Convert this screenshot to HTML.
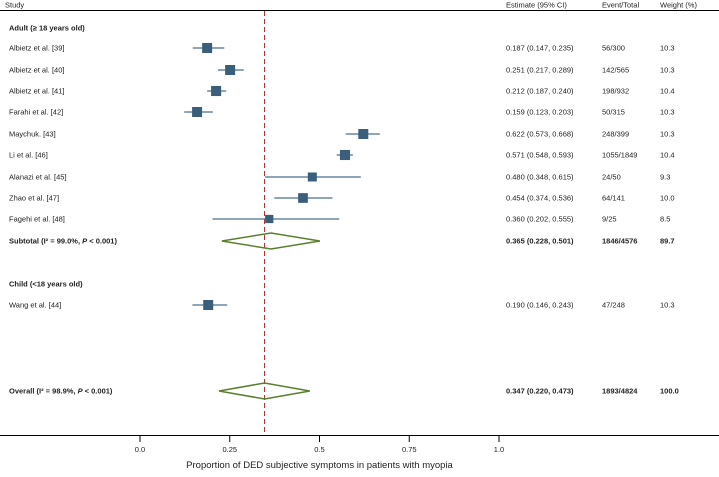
<!DOCTYPE html>
<html><head><meta charset="utf-8"><style>
body{margin:0;background:#fff}
svg text{font-family:"Liberation Sans",sans-serif;font-size:7.5px;fill:#222}
.b{font-weight:bold}
</style></head><body>
<svg id="c" width="719" height="472" viewBox="0 0 719 472" xmlns="http://www.w3.org/2000/svg">
<g id="g"></g>
</svg>
<script>
const studies=["Albietz et al. [39]","Albietz et al. [40]","Albietz et al. [41]","Farahi et al. [42]","Maychuk. [43]","Li et al. [46]","Alanazi et al. [45]","Zhao et al. [47]","Fagehi et al. [48]","Wang et al. [44]"];
const est=[0.187,0.251,0.212,0.159,0.622,0.571,0.480,0.454,0.360,0.190];
const lo=[0.147,0.217,0.187,0.123,0.573,0.548,0.348,0.374,0.202,0.146];
const hi=[0.235,0.289,0.240,0.203,0.668,0.593,0.615,0.536,0.555,0.243];
const events=["56/300","142/565","198/932","50/315","248/399","1055/1849","24/50","64/141","9/25","47/248"];
const weights=[10.3,10.3,10.4,10.3,10.3,10.4,9.3,10.0,8.5,10.3];
const rowsY=[48,70,91,112,134,155,177,198,219,305];
const pooledEst=[0.365,0.347];
const pooledLo=[0.228,0.220];
const pooledHi=[0.501,0.473];
const pooledLabel=["Subtotal","Overall"];
const pooledI2=["99.0%","98.9%"];
const pooledEvents=["1846/4576","1893/4824"];
const pooledWeight=["89.7","100.0"];
const pooledY=[241,391];
const ticks=[0,0.25,0.5,0.75,1.0];
const tickLabels=["0.0","0.25","0.5","0.75","1.0"];
const overall=0.347;

const NS="http://www.w3.org/2000/svg";
const g=document.getElementById('g');
const x=v=>140+v*359;
function mk(t,a,txt){const e=document.createElementNS(NS,t);for(const k in a)e.setAttribute(k,a[k]);if(txt!==undefined)e.textContent=txt;g.appendChild(e);return e;}
function tx(X,Y,s,cls){return mk('text',{x:X,y:Y+2.5,class:cls||''},s);}

let e;
e=tx(5,5,"Study");
e=tx(506,5,"Estimate (95% CI)");
e=tx(602,5,"Event/Total");
e=tx(660,5,"Weight (%)");
e=mk('line',{x1:0,x2:719,y1:10.5,y2:10.5,stroke:'#000','stroke-width':1});
e=tx(9,28,"Adult (≥ 18 years old)","b");
e=tx(9,284,"Child (<18 years old)","b");

e=mk('line',{x1:x(overall),x2:x(overall),y1:11,y2:435,stroke:'#b22222','stroke-width':1,'stroke-dasharray':'5,3'});


for(let i=0;i<studies.length;i++){
  const y=rowsY[i];
  e=tx(9,y,studies[i]);
  e=mk('line',{x1:x(lo[i]),x2:x(hi[i]),y1:y,y2:y,stroke:'#4a7090','stroke-width':1.3});
  
  const s=weights[i]*0.97;
  e=mk('rect',{x:x(est[i])-s/2,y:y-s/2,width:s,height:s,fill:'#3a5f7d'});
  
  e=tx(506,y,est[i].toFixed(3)+" ("+lo[i].toFixed(3)+", "+hi[i].toFixed(3)+")");
  e=tx(602,y,events[i]);
  e=tx(660,y,weights[i].toFixed(1));
}
for(let j=0;j<2;j++){
  const y=pooledY[j];
  const t=mk('text',{x:9,y:y+2.5,class:'b'});
  t.innerHTML=pooledLabel[j]+"  (I² = "+pooledI2[j]+", <tspan font-style='italic'>P</tspan> &lt; 0.001)";
  
  e=mk('polygon',{points:`${x(pooledLo[j])},${y} ${x(pooledEst[j])},${y-8} ${x(pooledHi[j])},${y} ${x(pooledEst[j])},${y+8}`,fill:'none',stroke:'#5b7f2e','stroke-width':1.5});
  
  e=tx(506,y,pooledEst[j].toFixed(3)+" ("+pooledLo[j].toFixed(3)+", "+pooledHi[j].toFixed(3)+")","b");
  e=tx(602,y,pooledEvents[j],"b");
  e=tx(660,y,pooledWeight[j],"b");
}
e=mk('line',{x1:0,x2:719,y1:435.5,y2:435.5,stroke:'#000','stroke-width':1});

for(let k=0;k<ticks.length;k++){
  e=mk('line',{x1:x(ticks[k]),x2:x(ticks[k]),y1:435,y2:442,stroke:'#000','stroke-width':1});
  
  e=mk('text',{x:x(ticks[k]),y:452,'text-anchor':'middle'},tickLabels[k]);
  
}
e=mk('text',{x:x(0.5),y:468,'text-anchor':'middle',style:'font-size:9.5px'},"Proportion of DED subjective symptoms in patients with myopia");

</script>
</body></html>
